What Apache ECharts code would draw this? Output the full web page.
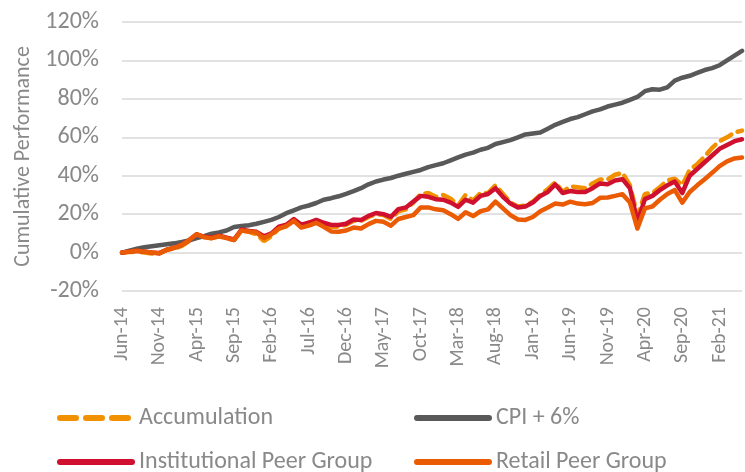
<!DOCTYPE html>
<html>
<head>
<meta charset="utf-8">
<script src="https://cdn.jsdelivr.net/npm/echarts@6/dist/echarts.min.js"></script>
<style>
  html, body { margin: 0; padding: 0; background: #fff; }
  #chart { width: 745px; height: 472px; }
</style>
</head>
<body>
<div id="chart"></div>
<script>
// monthly points, Jun-14 .. May-21
var months = ['Jan', 'Feb', 'Mar', 'Apr', 'May', 'Jun', 'Jul', 'Aug', 'Sep', 'Oct', 'Nov', 'Dec']
var dates = []
for (var k = 0; k < 84; k++) {
  var m = (5 + k) % 12
  var y = 14 + Math.floor((5 + k) / 12)
  dates.push(months[m] + '-' + y)
}

var accumulation = [0, 0.3, 0.6, 0, -0.5, -0.5, 1.5, 2, 3.5, 6,
  9.5, 8, 7.5, 8.5, 7.5, 6.5, 11.5, 10.8, 9.5, 6,
  8.5, 12.5, 14, 17, 14.5, 15.5, 16.5, 15, 13.5, 13.5,
  14.5, 16.5, 16.5, 18.5, 20, 19.5, 17.5, 21.5, 22.5, 26,
  30.5, 31, 29, 30, 28, 24.5, 30, 27, 31, 31,
  35, 30.5, 26, 24, 24.5, 26.5, 30, 33, 36.5, 31.5,
  34.5, 34, 33.5, 36, 38, 38, 40.5, 41.5, 35, 19,
  30.5, 31, 34, 37.5, 38.5, 35, 43, 46, 50, 54.5,
  58, 60, 62.5, 63.5]

var cpiPlus6 = [0, 1, 2, 2.8, 3.3, 3.8, 4.3, 4.8, 5.5, 6.3,
  7.5, 8.6, 9.8, 10.5, 11.5, 13.3, 13.8, 14.2, 15, 16,
  17, 18.5, 20.5, 22, 23.5, 24.5, 25.8, 27.5, 28.3, 29.3,
  30.6, 32, 33.5, 35.5, 37, 38, 38.8, 40, 41, 42,
  43, 44.5, 45.5, 46.5, 48, 49.5, 51, 52, 53.5, 54.5,
  56.5, 57.5, 58.5, 60, 61.5, 62, 62.5, 64.5, 66.5, 68,
  69.5, 70.5, 72, 73.5, 74.5, 76, 77, 78, 79.5, 81,
  84, 85, 84.8, 86, 89.5, 91, 92, 93.5, 95, 96,
  97.5, 100, 102.5, 105]

var institutional = [0, 0.5, 1, 0.5, 0, -0.3, 1.5, 2.5, 4, 6.5,
  9.5, 8.2, 7.8, 8.8, 7.8, 6.8, 12, 11.3, 10.8, 8.5,
  10, 13.5, 14.5, 17.4, 14.5, 15.5, 17, 15.5, 14.4, 14.4,
  15, 17.2, 17, 19.1, 20.6, 20, 18.6, 22.6, 23.5, 26.5,
  29.5, 29, 27.8, 27.5, 26, 23.8, 27.5, 26, 29.5, 30.5,
  33.5, 29, 25.5, 23.5, 24, 26, 29.5, 31.5, 35.5, 31,
  32, 31.5, 31.5, 33.5, 36, 35.6, 37.5, 38.2, 33.5, 16,
  27.8, 29.5, 32.5, 35, 37, 31, 40, 43.5, 47, 50.5,
  54, 56, 58, 59]

var retail = [0, 0.5, 1, 0.5, 0, -0.3, 1.5, 2.5, 4, 6.5,
  9.5, 8, 7.5, 8.5, 7.5, 6.5, 11.5, 11, 10.4, 7.5,
  9.5, 12.5, 13.7, 16.5, 13, 14, 15.5, 13.4, 11, 10.8,
  11.5, 13, 12.5, 14.8, 16.5, 16, 14, 17.5, 18.5, 19.5,
  23.5, 23.5, 22.5, 22, 20, 17.5, 21, 19, 21.5, 22.5,
  26.5, 23, 19.5, 17.2, 17, 18.5, 21.5, 23.5, 25.5, 25,
  26.5, 25.5, 25.2, 25.8, 28.5, 28.7, 29.5, 30.4, 26, 12.5,
  23, 24, 27.5, 30.5, 32.5, 26, 31.5, 35, 38.2, 41.5,
  45, 47.5, 49, 49.5]

var yTicks = [-20, 0, 20, 40, 60, 80, 100, 120]

var font = 'Carlito, Lato, sans-serif'
var grey = '#898989'

var chart = echarts.init(document.getElementById('chart'))

function legendAt(name, left, top, dash) {
  return {
    data: [name],
    left: left,
    top: top,
    padding: 0,
    itemWidth: 72,
    itemHeight: 14,
    itemGap: 0,
    itemStyle: { opacity: 0 },
    lineStyle: { width: 6, opacity: 1, type: dash || 'solid', cap: 'round' },
    textStyle: { color: grey, fontSize: 24, fontFamily: font, padding: [0, 0, 0, 2] }
  }
}

chart.setOption({
  animation: false,
  grid: { left: 122, right: 3, top: 22, bottom: 181, containLabel: false },
  legend: [
    legendAt('Accumulation', 57, 406, [16, 10]),
    legendAt('CPI + 6%', 414, 406),
    legendAt('Institutional Peer Group', 57, 450),
    legendAt('Retail Peer Group', 414, 450)
  ],
  xAxis: {
    type: 'category',
    data: dates,
    boundaryGap: false,
    axisLine: { show: false, onZero: false },
    axisTick: { show: false },
    axisLabel: {
      interval: 4,
      rotate: 90,
      margin: 16,
      color: grey,
      fontSize: 20,
      fontFamily: font
    },
    splitLine: { show: false }
  },
  yAxis: {
    type: 'value',
    min: yTicks[0],
    max: yTicks[yTicks.length - 1],
    interval: 20,
    name: 'Cumulative Performance',
    nameLocation: 'middle',
    nameGap: 87,
    nameTextStyle: { color: grey, fontSize: 22, fontFamily: font },
    axisLine: { show: false },
    axisTick: { show: false },
    axisLabel: {
      margin: 23,
      color: grey,
      fontSize: 24,
      fontFamily: font,
      formatter: '{value}%'
    },
    splitLine: { lineStyle: { color: '#d9d9d9', width: 1.5 } }
  },
  series: [
    {
      name: 'Accumulation',
      type: 'line',
      data: accumulation,
      symbol: 'none',
      color: '#f29100',
      lineStyle: { width: 4.5, type: [12, 7], cap: 'round' }
    },
    {
      name: 'CPI + 6%',
      type: 'line',
      data: cpiPlus6,
      symbol: 'none',
      color: '#595959',
      lineStyle: { width: 4.5, cap: 'round', join: 'round' }
    },
    {
      name: 'Institutional Peer Group',
      type: 'line',
      data: institutional,
      symbol: 'none',
      color: '#d0102f',
      lineStyle: { width: 4.5, cap: 'round', join: 'round' }
    },
    {
      name: 'Retail Peer Group',
      type: 'line',
      data: retail,
      symbol: 'none',
      color: '#ea5b04',
      lineStyle: { width: 4.5, cap: 'round', join: 'round' }
    }
  ]
})
</script>
</body>
</html>
